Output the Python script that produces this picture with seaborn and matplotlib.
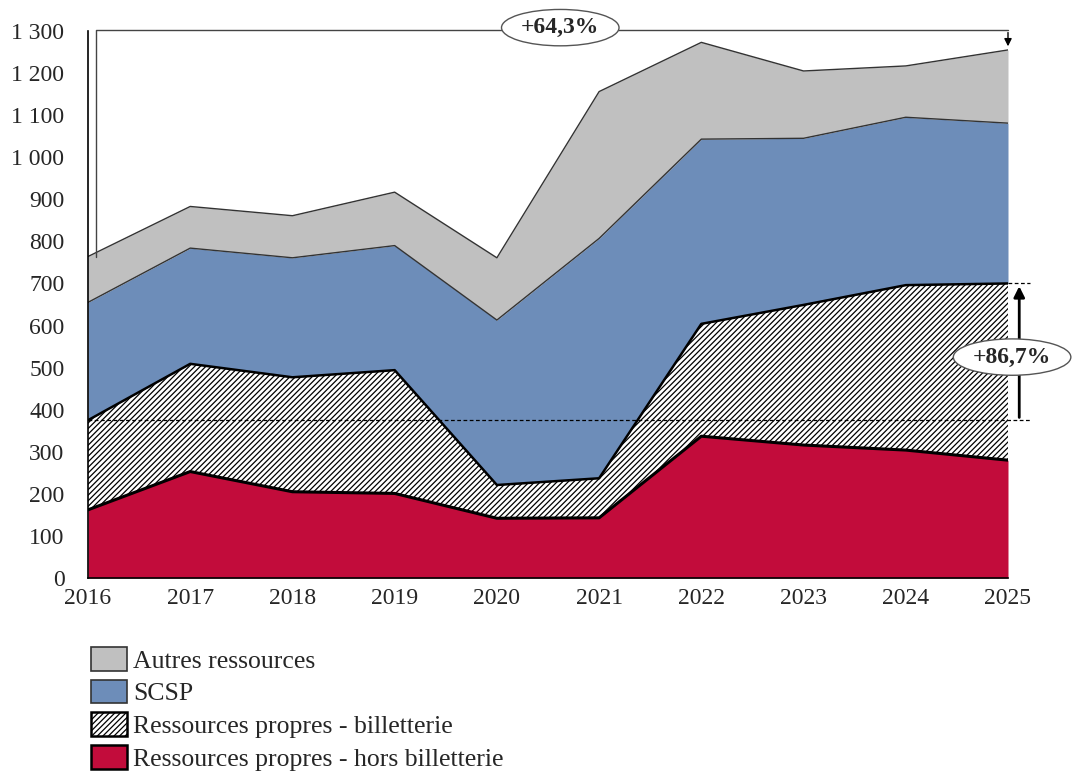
import numpy as np
import matplotlib
matplotlib.use("Agg")
import matplotlib.pyplot as plt
from matplotlib.patches import Patch
from matplotlib.ticker import FuncFormatter
import seaborn as sns

# Data (millions d'euros)
years = [2016, 2017, 2018, 2019, 2020, 2021, 2022, 2023, 2024, 2025]
hors_billetterie = [162, 253, 205, 201, 142, 143, 337, 316, 304, 280]
billetterie = [213, 256, 272, 293, 79, 94, 267, 333, 392, 420]
scsp = [280, 275, 284, 296, 392, 570, 439, 396, 399, 381]
autres = [109, 99, 100, 127, 148, 349, 230, 160, 122, 174]

labels = ["Ressources propres - hors billetterie", "Ressources propres - billetterie",
          "SCSP", "Autres ressources"]
colors = ["#C20C3B", "white", "#6D8DB9", "#C0C0C0"]
growth_total = "+64,3%"
growth_rp = "+86,7%"

sns.set_theme(style="white")
plt.rcParams['font.family'] = ['Liberation Serif', 'DejaVu Serif']
plt.rcParams['hatch.linewidth'] = 0.9

fig = plt.figure(figsize=(10.75, 7.76), dpi=100)
ax = fig.add_axes([88 / 1075, 1 - 578 / 776, 920 / 1075, 547 / 776])

polys = ax.stackplot(years, hors_billetterie, billetterie, scsp, autres,
                     colors=colors, linewidth=0)
polys[1].set_hatch('//////')
polys[1].set_edgecolor('black')
polys[1].set_linewidth(0)

# outlines of each layer
cum = np.cumsum([hors_billetterie, billetterie, scsp, autres], axis=0)
line_w = [2.2, 1.8, 1.0, 1.0]
line_c = ['black', 'black', '#333333', '#333333']
for i in range(4):
    sns.lineplot(x=years, y=cum[i], ax=ax, color=line_c[i], linewidth=line_w[i],
                 legend=False)

ax.set_xlim(2016, 2025)
ax.set_ylim(0, 1300)
ax.set_yticks(range(0, 1301, 100))
ax.yaxis.set_major_formatter(FuncFormatter(lambda v, p: f"{v:,.0f}".replace(",", " ")))
ax.set_xticks(years)
ax.tick_params(axis='y', length=5, width=1, color='black', direction='out', labelsize=17, pad=12)
ax.tick_params(axis='x', length=0, labelsize=17, pad=7)
sns.despine(ax=ax)
for s in ['left', 'bottom']:
    ax.spines[s].set_color('black')
    ax.spines[s].set_linewidth(1.2)

# +64,3% bracket (total resources 2016 -> 2025)
top0, top1 = cum[3][0], cum[3][-1]
ax.plot([2016.08, 2016.08, 2025], [top0, 1303, 1303], color='#444444', lw=1, clip_on=False)
ax.annotate('', xy=(2025, top1 + 2), xytext=(2025, 1303),
            arrowprops=dict(arrowstyle='-|>', color='black', lw=1, mutation_scale=11),
            annotation_clip=False)
ax.text(2020.62, 1308, growth_total,
        ha='center', va='center', fontsize=17, fontweight='bold', zorder=5,
        bbox=dict(boxstyle='ellipse,pad=0.1', fc='white', ec='#555555', lw=1), clip_on=False)

# +86,7% arrow (ressources propres 2016 -> 2025)
rp0, rp1 = cum[1][0], cum[1][-1]
ax.plot([2016, 2025.22], [rp0, rp0], color='black', lw=0.9, ls=(0, (3, 2)), clip_on=False)
ax.plot([2025, 2025.22], [rp1, rp1], color='black', lw=0.9, ls=(0, (3, 2)), clip_on=False)
ax.annotate('', xy=(2025.11, rp1), xytext=(2025.11, rp0),
            arrowprops=dict(arrowstyle='-|>', color='black', lw=2, mutation_scale=16),
            annotation_clip=False)
ax.text(2025.04, 525, growth_rp,
        ha='center', va='center', fontsize=17, fontweight='bold', zorder=5,
        bbox=dict(boxstyle='ellipse,pad=0.1', fc='white', ec='#555555', lw=1), clip_on=False)

# legend
handles = [
    Patch(facecolor=colors[3], edgecolor='#333333', lw=1.2, label=labels[3]),
    Patch(facecolor=colors[2], edgecolor='#333333', lw=1.2, label=labels[2]),
    Patch(facecolor='white', edgecolor='black', hatch='//////', lw=1.8, label=labels[1]),
    Patch(facecolor=colors[0], edgecolor='black', lw=1.8, label=labels[0]),
]
fig.legend(handles=handles, loc='upper left', bbox_to_anchor=(91 / 1075, 1 - 647 / 776),
           frameon=False, fontsize=18.5, handlelength=1.4, handleheight=1.05,
           handletextpad=0.25, labelspacing=0.27, borderpad=0, borderaxespad=0)

fig.savefig('out.png', dpi=100)
